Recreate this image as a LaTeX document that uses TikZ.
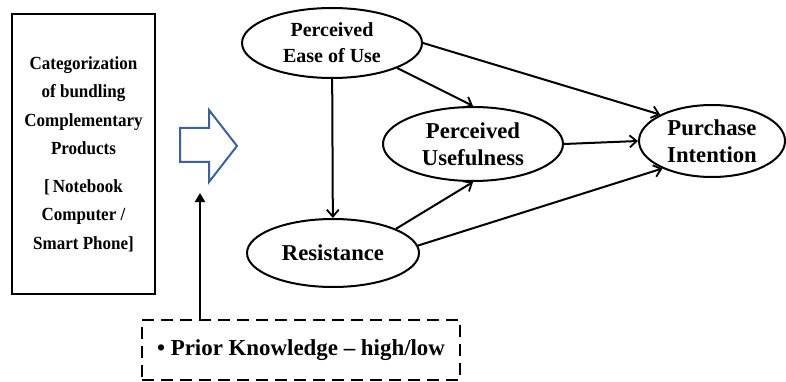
\documentclass[tikz,border=0pt]{standalone}
\usepackage{fontspec}
\setmainfont{Liberation Serif}
\newfontfamily\condfont[FakeStretch=0.92]{Liberation Serif}
\usetikzlibrary{arrows.meta,shapes.geometric}
\definecolor{arrblue}{HTML}{3D6396}
\tikzset{
  x=1pt,y=-1pt,
  ell/.style={draw,ellipse,line width=2pt,inner sep=0pt,align=center,font=\bfseries\fontsize{22.7}{27}\selectfont},
  conn/.style={line width=2pt,-{Straight Barb[length=7pt,width=12pt,line width=1.8pt]}},
}
\begin{document}
\begin{tikzpicture}
\useasboundingbox (0,0) rectangle (786,382);
% left box
\node[draw,line width=2pt,minimum width=143pt,minimum height=280pt,inner sep=0pt,align=center,
  font=\condfont\bfseries\fontsize{18.5}{28.5}\selectfont] (cat) at (83.5,154)
  {Categorization\\of bundling\\Complementary\\Products\\[9pt][\,Notebook\\Computer /\\Smart Phone]};
% block arrow
\draw[arrblue,line width=2pt,line join=miter] (180,128) -- (209,128) -- (209,110) -- (237,146) -- (209,182) -- (209,162) -- (180,162) -- cycle;
% ellipses
\node[ell,minimum width=180pt,minimum height=70pt,font=\bfseries\fontsize{20}{26}\selectfont] (peu) at (332,43) {Perceived\\Ease of Use};
\node[ell,minimum width=180pt,minimum height=74pt] (pu) at (473,144) {Perceived\\Usefulness};
\node[ell,minimum width=146pt,minimum height=72pt] (pi) at (712,141) {Purchase\\Intention};
\node[ell,minimum width=172pt,minimum height=68pt] (res) at (333,253) {Resistance};
% dashed box
\node[draw,dashed,dash pattern=on 12pt off 7pt,line width=2pt,minimum width=318pt,minimum height=60pt,inner sep=0pt,
  font=\bfseries\fontsize{22.9}{27}\selectfont] (pk) at (301,350) {\textbullet\ Prior Knowledge -- high/low};
\coordinate (tip) at (200,193);
% connectors
\draw[line width=2pt,-{Triangle[length=9pt,width=10pt]}] (pk.north -| tip) -- (tip);
\draw[conn] (peu) -- (res);
\draw[conn] (peu.-21) -- (pu.north);
\draw[conn] (peu.east) -- (pi.153);
\draw[conn] (pu.east) -- (pi.west);
\draw[conn] (res.21) -- (pu.south);
\draw[conn] (res.5) -- (pi.-151);
\end{tikzpicture}
\end{document}
